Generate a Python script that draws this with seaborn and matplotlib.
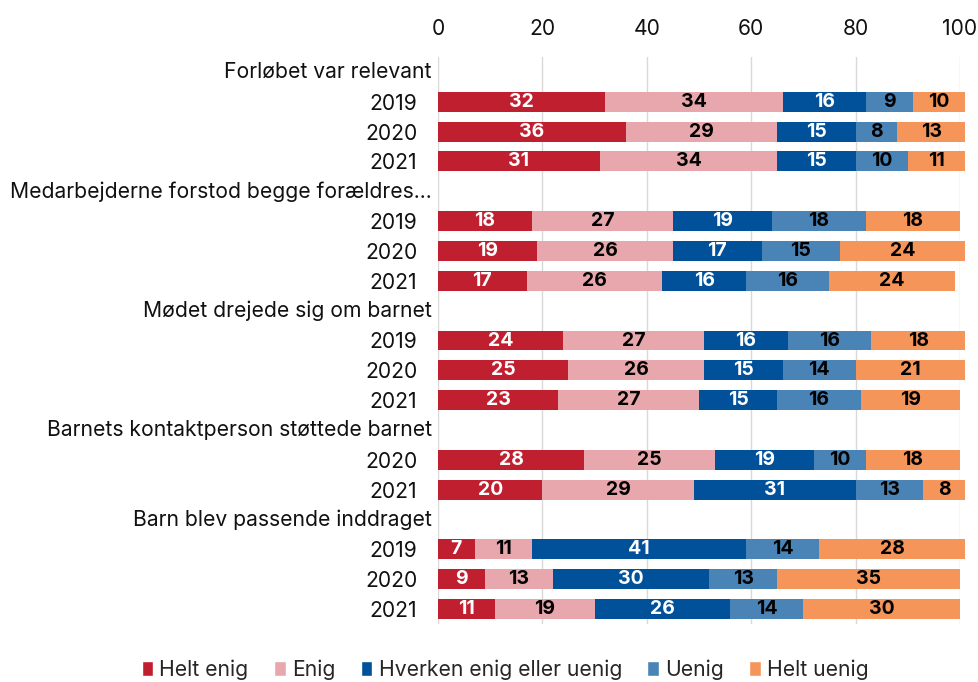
import numpy as np
import pandas as pd
import matplotlib.pyplot as plt
import seaborn as sns
from matplotlib.patches import Patch

# data
categories = ['Helt enig', 'Enig', 'Hverken enig eller uenig', 'Uenig', 'Helt uenig']
colors = ['#C01F30', '#E8A7AC', '#00509A', '#4A83B5', '#F5955A']
text_colors = ['white', 'black', 'white', 'black', 'black']

questions = ['Forløbet var relevant',
             'Medarbejderne forstod begge forældres...',
             'Mødet drejede sig om barnet',
             'Barnets kontaktperson støttede barnet',
             'Barn blev passende inddraget']
years = [['2019', '2020', '2021'],
         ['2019', '2020', '2021'],
         ['2019', '2020', '2021'],
         ['2020', '2021'],
         ['2019', '2020', '2021']]
values = [
    [[32, 34, 16, 9, 10], [36, 29, 15, 8, 13], [31, 34, 15, 10, 11]],
    [[18, 27, 19, 18, 18], [19, 26, 17, 15, 24], [17, 26, 16, 16, 24]],
    [[24, 27, 16, 16, 18], [25, 26, 15, 14, 21], [23, 27, 15, 16, 19]],
    [[28, 25, 19, 10, 18], [20, 29, 31, 13, 8]],
    [[7, 11, 41, 14, 28], [9, 13, 30, 13, 35], [11, 19, 26, 14, 30]],
]

# build rows: header row (no bar) followed by the year rows
rows = []
labels = []
is_header = []
for q, ys, vals in zip(questions, years, values):
    labels.append(q)
    is_header.append(True)
    rows.append([0] * 5)
    for y, v in zip(ys, vals):
        labels.append(y)
        is_header.append(False)
        rows.append(v)

df = pd.DataFrame(rows, columns=categories)
df['row'] = np.arange(len(df))
cum = df[categories].cumsum(axis=1)

sns.set_style('white')
plt.rcParams['font.family'] = ['Inter', 'DejaVu Sans']

fig = plt.figure(figsize=(9.79, 6.82), dpi=100)
ax = fig.add_axes([438 / 979, 1 - 624 / 682, 522 / 979, 567 / 682])

# stacked bars: draw the cumulative totals from widest to narrowest
for k in range(len(categories) - 1, -1, -1):
    d = pd.DataFrame({'x': cum[categories[k]], 'row': df['row']})
    sns.barplot(data=d, x='x', y='row', orient='h', color=colors[k],
                width=0.67, linewidth=0, saturation=1, ax=ax, errorbar=None)
for p in ax.patches:
    p.set_clip_on(False)

for i, r in df.iterrows():
    for k, c in enumerate(categories):
        v = r[c]
        if v > 0:
            ax.text(cum.loc[i, c] - v / 2, i, str(v), ha='center', va='center',
                    fontsize=14, fontweight='bold', color=text_colors[k])

ax.set_xlim(0, 100)
ax.set_ylim(len(df) - 0.5, -0.5)
ax.set_xticks(range(0, 101, 20))
ax.xaxis.tick_top()
ax.set_yticks([i for i, h in enumerate(is_header) if not h])
ax.set_yticklabels([l for l, h in zip(labels, is_header) if not h])
ax.tick_params(axis='both', length=0, labelsize=15.2, colors='#111111')
ax.tick_params(axis='y', pad=15)
ax.tick_params(axis='x', pad=13)
for i, (l, h) in enumerate(zip(labels, is_header)):
    if h:
        ax.annotate(l, xy=(0, i), xytext=(-4.5, 0), textcoords='offset points',
                    ha='right', va='center', fontsize=15.2, color='#111111',
                    annotation_clip=False)
ax.set_xlabel('')
ax.set_ylabel('')
ax.grid(axis='x', color='#d9d9d9', linewidth=1)
ax.set_axisbelow(True)
for s in ax.spines.values():
    s.set_visible(False)

handles = [Patch(facecolor=c, label=l) for c, l in zip(colors, categories)]
fig.legend(handles=handles, loc='center', bbox_to_anchor=(0.516, 0.018), ncol=5,
           frameon=False, fontsize=15.2, handlelength=0.55, handleheight=0.75,
           handletextpad=0.3, columnspacing=1.2)

fig.savefig('out.png', dpi=100)
